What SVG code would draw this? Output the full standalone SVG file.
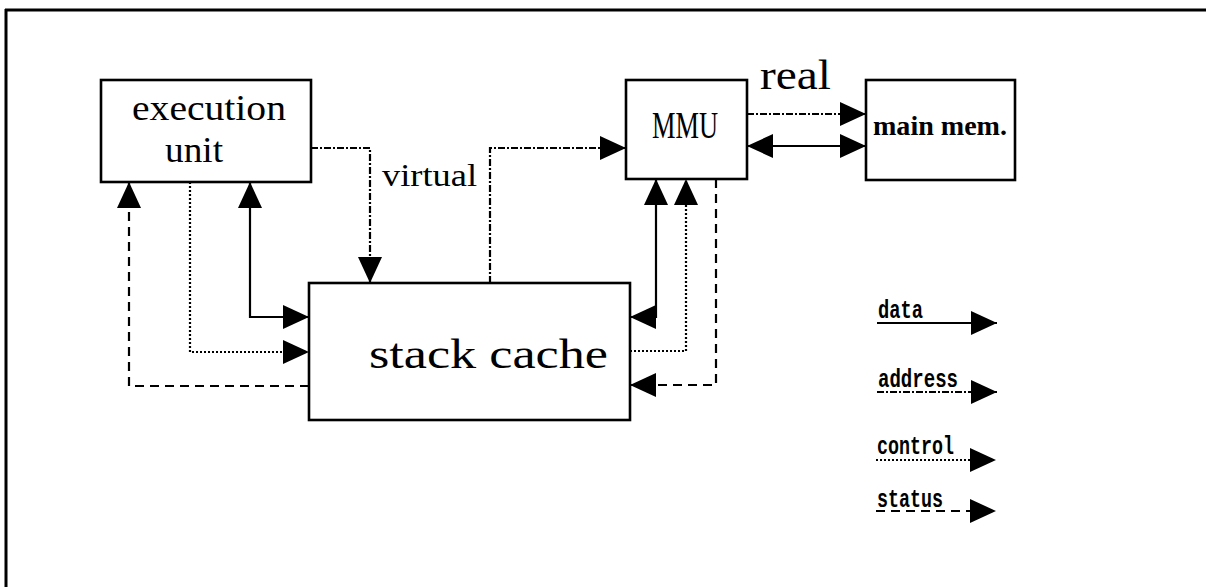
<svg xmlns="http://www.w3.org/2000/svg" width="1206" height="587" viewBox="0 0 1206 587">
<style>
.box{fill:#fff;stroke:#000;stroke-width:2.6}
.t{font-family:"Liberation Serif","DejaVu Serif",serif;fill:#000}
.lg{font-family:"Liberation Mono","DejaVu Sans Mono",monospace;font-weight:bold;fill:#000;font-size:25px}
.c{fill:none;stroke:#000;stroke-width:2.2}
.data{}
.addr{stroke-dasharray:7 2 2 2}
.ctrl{stroke-dasharray:2 2}
.stat{stroke-dasharray:9 6}
</style>
<defs>
<marker id="ah" viewBox="0 0 26 24" refX="26" refY="12" markerWidth="26" markerHeight="24" markerUnits="userSpaceOnUse" orient="auto-start-reverse">
<path d="M0,0 L26,12 L0,24 z" fill="#000"/>
</marker>
</defs>
<rect width="1206" height="587" fill="#fff"/>
<g id="frame">
<line x1="5" y1="10" x2="1206" y2="10" stroke="#000" stroke-width="3"/>
<line x1="6" y1="9" x2="6" y2="587" stroke="#000" stroke-width="3"/>
</g>
<g id="connectors">
<path class="c addr" d="M311,148 H370 V283" marker-end="url(#ah)"/>
<path class="c addr" d="M490,283 V148 H626" marker-end="url(#ah)"/>
<path class="c addr" d="M747,114 H866" marker-end="url(#ah)"/>
<path class="c data" d="M747,146 H866" marker-start="url(#ah)" marker-end="url(#ah)"/>
<path class="c data" d="M250,182 V317 H309" marker-start="url(#ah)" marker-end="url(#ah)"/>
<path class="c ctrl" d="M190,182 V352 H309" marker-end="url(#ah)"/>
<path class="c stat" d="M309,386 H129 V182" marker-end="url(#ah)"/>
<path class="c data" d="M656,179 V317 H630" marker-start="url(#ah)" marker-end="url(#ah)"/>
<path class="c ctrl" d="M630,351 H686 V179" marker-end="url(#ah)"/>
<path class="c stat" d="M716,179 V385 H630" marker-end="url(#ah)"/>
<text class="t" x="382" y="186" font-size="32" textLength="95" lengthAdjust="spacingAndGlyphs">virtual</text>
<text class="t" x="760" y="89" font-size="42" textLength="71" lengthAdjust="spacingAndGlyphs">real</text>
</g>
<g id="exec">
<rect class="box" x="101" y="80" width="210" height="102"/>
<text class="t" x="132" y="120" font-size="36" textLength="154" lengthAdjust="spacingAndGlyphs">execution</text>
<text class="t" x="165" y="162" font-size="36" textLength="58" lengthAdjust="spacingAndGlyphs">unit</text>
</g>
<g id="stackcache">
<rect class="box" x="309" y="283" width="321" height="137"/>
<text class="t" x="369" y="368" font-size="42" textLength="239" lengthAdjust="spacingAndGlyphs">stack cache</text>
</g>
<g id="mmu">
<rect class="box" x="626" y="80" width="121" height="99"/>
<text class="t" x="652" y="138" font-size="38" textLength="66" lengthAdjust="spacingAndGlyphs">MMU</text>
</g>
<g id="mainmem">
<rect class="box" x="866" y="80" width="149" height="100"/>
<text class="t" x="873" y="135" font-size="27" font-weight="bold" textLength="134" lengthAdjust="spacingAndGlyphs">main mem.</text>
</g>
<g id="legend">
<text class="lg" x="878" y="318" textLength="45" lengthAdjust="spacingAndGlyphs">data</text>
<path class="c data" d="M877,323 H997" marker-end="url(#ah)"/>
<text class="lg" x="878" y="387" textLength="80" lengthAdjust="spacingAndGlyphs">address</text>
<path class="c addr" d="M877,392 H997" marker-end="url(#ah)"/>
<text class="lg" x="877" y="454" textLength="77" lengthAdjust="spacingAndGlyphs">control</text>
<path class="c ctrl" d="M876,460 H996" marker-end="url(#ah)"/>
<text class="lg" x="877" y="507" textLength="66" lengthAdjust="spacingAndGlyphs">status</text>
<path class="c stat" d="M876,511 H996" marker-end="url(#ah)"/>
</g>
</svg>
